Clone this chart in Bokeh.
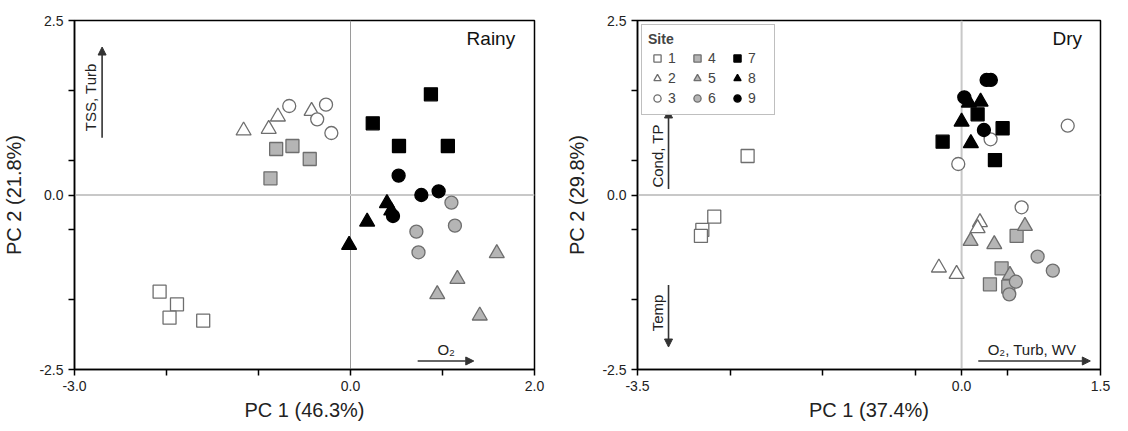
import math
from bokeh.plotting import figure
from bokeh.models import (Range1d, FixedTicker, Span, Arrow, NormalHead, Label,
                          Legend, LegendItem, PrintfTickFormatter)
from bokeh.layouts import row
from bokeh.embed import file_html
from bokeh.resources import INLINE

FONT = "Liberation Sans"

# ---------------- data ----------------
sites = [1, 2, 3, 4, 5, 6, 7, 8, 9]
site_of_point = [1, 1, 1, 1, 2, 2, 2, 2, 3, 3, 3, 3,
                 4, 4, 4, 4, 5, 5, 5, 5, 6, 6, 6, 6,
                 7, 7, 7, 7, 8, 8, 8, 8, 9, 9, 9, 9]

rainy_pc1 = [-2.075, -1.886, -1.967, -1.601,
             -1.162, -0.889, -0.789, -0.423,
             -0.666, -0.266, -0.362, -0.208,
             -0.808, -0.631, -0.443, -0.870,
             1.590, 1.162, 0.943, 1.405,
             1.097, 1.135, 0.716, 0.739,
             0.874, 0.242, 0.527, 1.058,
             0.396, 0.443, 0.181, -0.015,
             0.523, 0.770, 0.958, 0.462]
rainy_pc2 = [-1.385, -1.566, -1.757, -1.800,
             0.922, 0.946, 1.122, 1.203,
             1.275, 1.294, 1.084, 0.888,
             0.659, 0.702, 0.516, 0.239,
             -0.836, -1.203, -1.423, -1.729,
             -0.110, -0.439, -0.525, -0.821,
             1.442, 1.027, 0.702, 0.702,
             -0.119, -0.224, -0.382, -0.716,
             0.277, 0.000, 0.053, -0.301]

dry_pc1 = [-2.311, -2.671, -2.800, -2.815,
           0.198, 0.173, -0.245, -0.054,
           1.146, 0.313, -0.036, 0.648,
           0.594, 0.432, 0.306, 0.504,
           0.684, 0.097, 0.353, 0.522,
           0.821, 0.985, 0.586, 0.515,
           0.173, 0.443, -0.205, 0.360,
           0.079, 0.205, 0.000, 0.100,
           0.270, 0.316, 0.029, 0.241]
dry_pc2 = [0.559, -0.311, -0.501, -0.587,
           -0.391, -0.477, -1.041, -1.132,
           0.993, 0.798, 0.444, -0.176,
           -0.587, -1.050, -1.280, -1.314,
           -0.444, -0.659, -0.706, -1.146,
           -0.883, -1.084, -1.242, -1.423,
           1.156, 0.956, 0.764, 0.501,
           1.322, 1.337, 1.050, 0.741,
           1.648, 1.648, 1.400, 0.931]

# ---------------- styles ----------------
GREY_LINE = "#6e6e6e"
site_marker = {1: "square", 2: "triangle", 3: "circle",
               4: "square", 5: "triangle", 6: "circle",
               7: "square", 8: "triangle", 9: "circle"}
site_fill = {1: "white", 2: "white", 3: "white",
             4: "#b5b5b5", 5: "#b5b5b5", 6: "#b5b5b5",
             7: "black", 8: "black", 9: "black"}
site_line = {1: GREY_LINE, 2: GREY_LINE, 3: GREY_LINE,
             4: GREY_LINE, 5: GREY_LINE, 6: GREY_LINE,
             7: "black", 8: "black", 9: "black"}
marker_size = {"square": 13, "circle": 13, "triangle": 15}


def make_panel(pc1, pc2, xr, xmajor, xminor, xlabel, ylabel, width, bl, br,
               tag, tag_x, vline_color, vline_width):
    p = figure(width=width, height=423, x_range=Range1d(*xr), y_range=Range1d(-2.5, 2.5),
               output_backend="svg", toolbar_location=None,
               min_border_left=bl, min_border_right=br, min_border_top=20,
               min_border_bottom=54)
    p.grid.visible = False
    p.outline_line_color = "black"
    p.outline_line_width = 1.5
    p.background_fill_color = "white"
    p.border_fill_color = "white"

    p.xaxis.ticker = FixedTicker(ticks=xmajor, minor_ticks=xminor)
    p.yaxis.ticker = FixedTicker(ticks=[-2.5, 0.0, 2.5], minor_ticks=[-1.5, -0.5, 0.5, 1.5])
    for ax in (p.xaxis[0], p.yaxis[0]):
        ax.formatter = PrintfTickFormatter(format="%.1f")
        ax.axis_line_color = "black"
        ax.axis_line_width = 1.5
        ax.major_tick_out = 6
        ax.major_tick_in = 0
        ax.minor_tick_out = 6
        ax.minor_tick_in = 0
        ax.major_tick_line_color = "black"
        ax.minor_tick_line_color = "black"
        ax.major_tick_line_width = 1.5
        ax.minor_tick_line_width = 1.5
        ax.major_label_text_font = FONT
        ax.major_label_text_font_size = "14px"
        ax.major_label_text_color = "#222222"
        ax.axis_label_text_font = FONT
        ax.axis_label_text_font_size = "20px"
        ax.axis_label_text_font_style = "normal"
        ax.axis_label_text_color = "#222222"
    p.xaxis.axis_label = xlabel
    p.yaxis.axis_label = ylabel
    p.xaxis.major_label_standoff = 5
    p.xaxis.axis_label_standoff = 5
    p.yaxis.major_label_standoff = 5
    p.yaxis.axis_label_standoff = 11

    p.add_layout(Span(location=0, dimension="height", line_color=vline_color,
                      line_width=vline_width, level="underlay"))
    p.add_layout(Span(location=0, dimension="width", line_color="#c8c8c8",
                      line_width=2, level="underlay"))

    renderers = {}
    for s in sites:
        xs = [x for x, k in zip(pc1, site_of_point) if k == s]
        ys = [y for y, k in zip(pc2, site_of_point) if k == s]
        m = site_marker[s]
        r = p.scatter(xs, ys, marker=m, size=marker_size[m], fill_color=site_fill[s],
                      line_color=site_line[s], line_width=1.3)
        renderers[s] = r

    p.add_layout(Label(x=tag_x, y=2.24, text=tag, text_align="right", text_baseline="middle",
                       text_font=FONT, text_font_size="19px", text_color="#111111"))
    return p, renderers


def arrow(p, x0, y0, x1, y1):
    p.add_layout(Arrow(end=NormalHead(size=8, fill_color="#333333", line_color="#333333"),
                       x_start=x0, y_start=y0, x_end=x1, y_end=y1,
                       line_color="#333333", line_width=1.6))


def vtext(p, x, y, text):
    p.add_layout(Label(x=x, y=y, text=text, angle=math.pi / 2, text_align="center",
                       text_baseline="bottom", x_offset=-3, text_font=FONT,
                       text_font_size="15px", text_color="#222222"))


def htext(p, x, y, text):
    p.add_layout(Label(x=x, y=y, text=text, text_align="center", text_baseline="bottom",
                       y_offset=3, text_font=FONT, text_font_size="15px",
                       text_color="#222222"))


# ---------------- Rainy ----------------
p1, r1 = make_panel(rainy_pc1, rainy_pc2, (-3.0, 2.0), [-3.0, 0.0, 2.0], [-2, -1, 1],
                    "PC 1 (46.3%)", "PC 2 (21.8%)", 552, 72, 18, "Rainy", 1.79,
                    "#9a9a9a", 1)
arrow(p1, -2.70, 0.82, -2.70, 2.12)
vtext(p1, -2.70, 1.40, "TSS, Turb")
arrow(p1, 0.73, -2.378, 1.34, -2.378)
htext(p1, 1.04, -2.378, "O₂")

# ---------------- Dry ----------------
p2, r2 = make_panel(dry_pc1, dry_pc2, (-3.5, 1.5), [-3.5, 0.0, 1.5], [-2.5, -1.5, -0.5, 0.5],
                    "PC 1 (37.4%)", "PC 2 (29.8%)", 560, 85, 12, "Dry", 1.30,
                    "#c8c8c8", 2)
arrow(p2, -3.165, 0.086, -3.165, 1.218)
vtext(p2, -3.165, 0.56, "Cond, TP")
arrow(p2, -3.165, -1.289, -3.165, -2.178)
vtext(p2, -3.165, -1.69, "Temp")
arrow(p2, 0.18, -2.378, 1.39, -2.378)
htext(p2, 0.76, -2.378, "O₂, Turb, WV")

legend = Legend(items=[LegendItem(label=str(s), renderers=[r2[s]]) for s in sites],
                location="top_left", title="Site", orientation="vertical", nrows=3)
legend.title_text_font = FONT
legend.title_text_font_style = "bold"
legend.title_text_font_size = "14px"
legend.title_standoff = 1
legend.label_text_font = FONT
legend.label_text_font_size = "14px"
legend.label_standoff = 2
legend.glyph_width = 18
legend.glyph_height = 20
legend.spacing = 0
legend.padding = 6
legend.margin = 4
legend.border_line_color = "#808080"
legend.border_line_width = 1.5
p2.add_layout(legend)

layout = row(p1, p2)
open("out.html", "w").write(file_html(layout, INLINE))
